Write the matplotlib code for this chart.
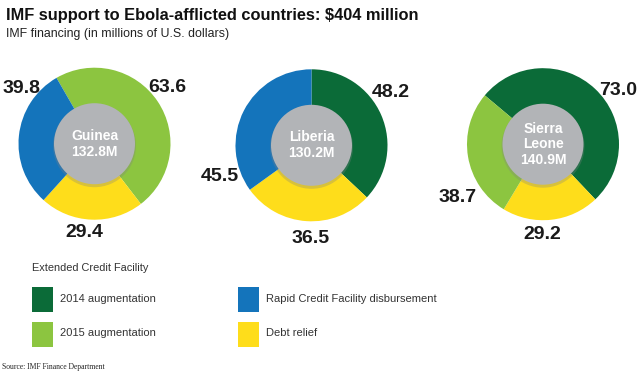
import matplotlib
matplotlib.use("Agg")
import matplotlib.pyplot as plt
from matplotlib.patches import Circle, Rectangle

# ---------------- DATA ----------------
countries = ["Guinea", "Liberia", "Sierra\nLeone"]
totals = ["132.8M", "130.2M", "140.9M"]

# wedge order (clockwise from start) per country
guinea_keys = ["ecf2015", "debt", "rcf"]
guinea_values = [63.6, 29.4, 39.8]
liberia_keys = ["ecf2014", "debt", "rcf"]
liberia_values = [48.2, 36.5, 45.5]
sierra_keys = ["ecf2014", "debt", "ecf2015"]
sierra_values = [73.0, 29.2, 38.7]

legend_keys = ["ecf2014", "ecf2015", "rcf", "debt"]
legend_labels = ["2014 augmentation", "2015 augmentation",
                 "Rapid Credit Facility disbursement", "Debt relief"]
# --------------------------------------

colors = {"ecf2014": "#0b6b38", "ecf2015": "#8cc540",
          "rcf": "#1474bb", "debt": "#fedd1b"}
gray = "#b2b4b7"

W, H = 638, 375
fig = plt.figure(figsize=(W / 100, H / 100), dpi=100)
ax = fig.add_axes([0, 0, 1, 1])
ax.set_xlim(0, W)
ax.set_ylim(H, 0)
ax.set_aspect("equal")
ax.axis("off")

sans = ["Liberation Sans", "DejaVu Sans"]

fig.text(6 / W, 1 - 20 / H, "IMF support to Ebola-afflicted countries: $404 million",
         family=sans, fontweight="bold", fontsize=11.8, color="#111111",
         ha="left", va="baseline")
fig.text(6 / W, 1 - 37 / H, "IMF financing (in millions of U.S. dollars)",
         family=sans, fontsize=8.9, color="#222222", ha="left", va="baseline")

# donut geometry (pixels); y axis is inverted, so counterclock=True draws clockwise
centers = [(94.5, 143.7), (311.5, 145.3), (543, 144.2)]
radius = 76
inner = 40.5
starts = [-120, -90, 220]
all_keys = [guinea_keys, liberia_keys, sierra_keys]
all_values = [guinea_values, liberia_values, sierra_values]
# label offsets from donut centre (pixels)
label_offsets = [[(73, -56), (-10, 89), (-73, -55)],
                 [(79, -53), (-1, 93), (-92, 31)],
                 [(75, -54), (-1, 90), (-85, 53)]]

for i in range(3):
    cx, cy = centers[i]
    keys = all_keys[i]
    vals = all_values[i]
    ax.pie(vals, colors=[colors[k] for k in keys], center=(cx, cy), radius=radius,
           startangle=starts[i], counterclock=True,
           wedgeprops=dict(linewidth=0))
    ax.add_patch(Circle((cx, cy + 2), inner + 1, color="#7f8184", alpha=0.3, lw=0, zorder=3))
    ax.add_patch(Circle((cx, cy), inner, color=gray, lw=0, zorder=4))
    ax.text(cx, cy, f"{countries[i]}\n{totals[i]}", family=sans, fontweight="bold",
            fontsize=10, color="white", ha="center", va="center",
            linespacing=1.15, zorder=5)
    for v, (dx, dy) in zip(vals, label_offsets[i]):
        ax.text(cx + dx, cy + dy, f"{v:.1f}", family=sans, fontweight="bold",
                fontsize=14, color="#1a1a1a", ha="center", va="center")

# restore limits after pie
ax.set_xlim(0, W)
ax.set_ylim(H, 0)

# legend
ax.text(32, 268, "Extended Credit Facility", family=sans, fontsize=7.9,
        color="#333333", ha="left", va="center")
box_pos = [(32, 287), (32, 322), (238, 287), (238, 322)]
for k, lab, (bx, by) in zip(legend_keys, legend_labels, box_pos):
    ax.add_patch(Rectangle((bx, by), 21, 25, color=colors[k], lw=0))
    ax.text(bx + 28, by + 11.5, lab, family=sans, fontsize=8,
            color="#333333", ha="left", va="center")

ax.text(2, 367, "Source: IMF Finance Department",
        family=["Liberation Serif", "DejaVu Serif"], fontsize=5.5, color="#222222",
        ha="left", va="center")

fig.savefig("out.png", dpi=100)
